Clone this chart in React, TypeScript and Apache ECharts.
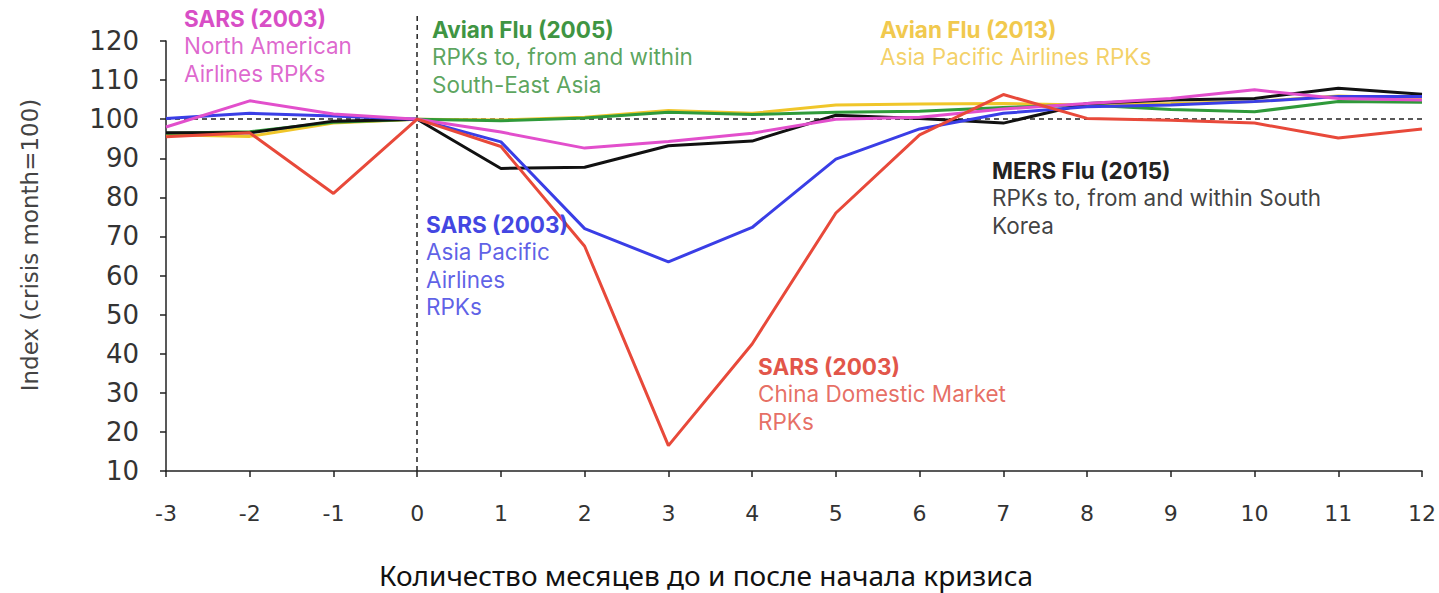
import React, { useEffect, useRef } from "react";
import * as echarts from "echarts";

const months = [-3, -2, -1, 0, 1, 2, 3, 4, 5, 6, 7, 8, 9, 10, 11, 12];
const yTicks = [10, 20, 30, 40, 50, 60, 70, 80, 90, 100, 110, 120];

const sarsChina = [95.5, 96.5, 81, 100, 93, 67.5, 16.5, 42.5, 76, 96, 106.3, 100.2, 99.7, 99, 95.2, 97.5];
const sarsAsiaPacific = [100.2, 101.5, 100.8, 100, 94.2, 72, 63.5, 72.3, 89.8, 97.5, 101.5, 103.2, 103.6, 104.5, 105.8, 105.8];
const sarsNorthAmerica = [98, 104.7, 101.3, 100, 96.7, 92.6, 94.3, 96.4, 100, 100.5, 102.6, 104, 105.3, 107.5, 105.3, 104.9];
const avianFlu2005 = [96.4, 96.8, 99.2, 100, 99.6, 100.3, 101.8, 101.2, 101.8, 102, 103, 103.6, 102.5, 101.9, 104.5, 104.3];
const avianFlu2013 = [96, 95.6, 99, 100, 99.8, 100.5, 102.2, 101.5, 103.6, 103.9, 104, 103.6, 104, 104.5, 105.9, 105.3];
const mersFlu2015 = [96.5, 96.5, 99.5, 100, 87.4, 87.7, 93.2, 94.4, 101, 100.2, 99, 104, 104.9, 105.3, 107.9, 106.4];

const seriesDefs = [
  { name: "Avian Flu (2013)", data: avianFlu2013, color: "#f0c62a" },
  { name: "Avian Flu (2005)", data: avianFlu2005, color: "#2f9a3a" },
  { name: "MERS Flu (2015)", data: mersFlu2015, color: "#111111" },
  { name: "SARS (2003) Asia Pacific", data: sarsAsiaPacific, color: "#3a3ee6" },
  { name: "SARS (2003) North American", data: sarsNorthAmerica, color: "#e24fcc" },
  { name: "SARS (2003) China", data: sarsChina, color: "#e8493a" },
];

const annotations = [
  { x: 184, y: 18, color: "#d84ec6", lines: ["SARS (2003)", "North American", "Airlines RPKs"] },
  { x: 432, y: 29, color: "#3f9543", lines: ["Avian Flu (2005)", "RPKs to, from and within", "South-East Asia"] },
  { x: 880, y: 29, color: "#f1c94e", lines: ["Avian Flu (2013)", "Asia Pacific Airlines RPKs"] },
  { x: 992, y: 170, color: "#222222", lines: ["MERS Flu (2015)", "RPKs to, from and within South", "Korea"] },
  { x: 426, y: 224, color: "#4346e2", lines: ["SARS (2003)", "Asia Pacific", "Airlines", "RPKs"] },
  { x: 758, y: 366, color: "#e2564a", lines: ["SARS (2003)", "China Domestic Market", "RPKs"] },
];

const TEXT_FONT = "Inter, 'Noto Sans', sans-serif";
const AXIS_FONT = "'DejaVu Sans', sans-serif";

export default function App() {
  const ref = useRef<HTMLDivElement>(null);

  useEffect(() => {
    if (!ref.current) return;
    const chart = echarts.init(ref.current, undefined, { renderer: "svg" });

    const graphics: any[] = [];
    annotations.forEach((a, ai) => {
      a.lines.forEach((t, i) => {
        graphics.push({
          type: "text",
          id: `ann-${ai}-${i}`,
          x: a.x,
          y: a.y + i * 27.5,
          z: 20,
          style: {
            text: t,
            fill: a.color,
            font: `${i === 0 ? "bold" : "normal"} 22.5px ${TEXT_FONT}`,
            verticalAlign: "middle",
            align: "left",
            opacity: i === 0 ? 1 : 0.85,
          },
        });
      });
    });
    graphics.push({
      type: "text",
      id: "yname",
      x: 30,
      y: 245,
      rotation: Math.PI / 2,
      style: {
        text: "Index (crisis month=100)",
        fill: "#444",
        font: `23px ${AXIS_FONT}`,
        align: "center",
        verticalAlign: "middle",
      },
    });
    graphics.push({
      type: "text",
      id: "xname",
      x: 706,
      y: 575,
      style: {
        text: "Количество месяцев до и после начала кризиса",
        fill: "#111",
        font: `28px 'Noto Sans', 'Open Sans', sans-serif`,
        align: "center",
        verticalAlign: "middle",
      },
    });

    const option: any = {
      animation: false,
      backgroundColor: "#ffffff",
      grid: { left: 166, right: 13, top: 41, bottom: 122, containLabel: false },
      xAxis: {
        type: "value",
        min: -3,
        max: 12,
        interval: 1,
        axisLine: { show: true, onZero: false, lineStyle: { color: "#222", width: 1.5 } },
        axisTick: { show: true, length: 6, lineStyle: { color: "#222", width: 1.5 } },
        axisLabel: { color: "#333", fontSize: 22, fontFamily: AXIS_FONT, margin: 31 },
        splitLine: { show: false },
      },
      yAxis: {
        type: "value",
        min: yTicks[0],
        max: yTicks[yTicks.length - 1],
        interval: 10,
        axisLine: { show: true, onZero: false, lineStyle: { color: "#222", width: 1.5 } },
        axisTick: { show: true, length: 6, lineStyle: { color: "#222", width: 1.5 } },
        axisLabel: { color: "#333", fontSize: 26, fontFamily: AXIS_FONT, margin: 27 },
        splitLine: { show: false },
      },
      series: [
        {
          type: "line",
          name: "ref",
          data: [],
          silent: true,
          markLine: {
            silent: true,
            symbol: ["none", "none"],
            label: { show: false },
            lineStyle: { color: "#222", type: [5, 4], width: 1.5 },
            data: [
              { yAxis: 100 },
              [{ coord: [0, yTicks[0]] }, { coord: [0, yTicks[yTicks.length - 1]] }],
            ],
          },
        },
        ...seriesDefs.map((s) => ({
          type: "line",
          name: s.name,
          data: months.map((m, i) => [m, s.data[i]]),
          showSymbol: false,
          symbol: "none",
          lineStyle: { color: s.color, width: 3 },
          itemStyle: { color: s.color },
          z: 5,
        })),
      ],
      graphic: graphics,
    };

    chart.setOption(option);

    const top = chart.convertToPixel({ xAxisIndex: 0, yAxisIndex: 0 }, [0, yTicks[yTicks.length - 1]]);
    if (top) {
      chart.setOption({
        graphic: [
          ...graphics,
          {
            type: "line",
            id: "vext",
            shape: { x1: top[0], y1: 16, x2: top[0], y2: top[1] },
            style: { stroke: "#222", lineWidth: 1.5, lineDash: [5, 4] },
          },
        ],
      });
    }

    return () => chart.dispose();
  }, []);

  return (
    <div
      ref={ref}
      style={{ position: "fixed", left: 0, top: 0, width: 1439, height: 593, background: "#fff" }}
    />
  );
}
